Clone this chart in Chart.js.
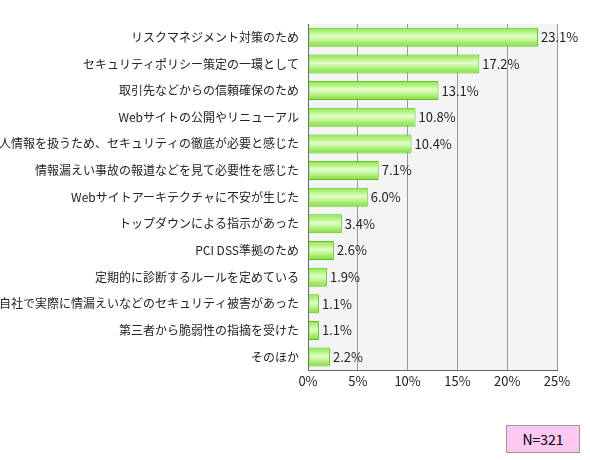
<!DOCTYPE html>
<html><head><meta charset="utf-8">
<script src="https://cdn.jsdelivr.net/npm/chart.js@4"></script>
<style>body{margin:0;background:#fff}#w{position:relative;width:590px;height:460px}
#n{position:absolute;left:506px;top:425px;width:74px;height:28px;background:#fcc8f0;border:1px solid #999;box-sizing:border-box;font:14px "Noto Sans CJK JP",sans-serif;text-align:center;line-height:26px}</style>
</head><body><div id="w"><canvas id="c" width="590" height="460"></canvas><div id="n">N=321</div></div>
<script>
const categories=["リスクマネジメント対策のため","セキュリティポリシー策定の一環として","取引先などからの信頼確保のため","Webサイトの公開やリニューアル","個人情報を扱うため、セキュリティの徹底が必要と感じた","情報漏えい事故の報道などを見て必要性を感じた","Webサイトアーキテクチャに不安が生じた","トップダウンによる指示があった","PCI DSS準拠のため","定期的に診断するルールを定めている","自社で実際に情漏えいなどのセキュリティ被害があった","第三者から脆弱性の指摘を受けた","そのほか"];
const values=[23.1,17.2,13.1,10.8,10.4,7.1,6.0,3.4,2.6,1.9,1.1,1.1,2.2];
const xTicks=[0,5,10,15,20,25];
const font='"Noto Sans CJK JP", sans-serif';
const plug={id:'p',
beforeDraw(ch){const a=ch.chartArea,c=ch.ctx;c.save();c.fillStyle='#f4f4f4';c.fillRect(a.left,a.top,a.width,a.height);c.restore();},
afterDatasetsDraw(ch){const c=ch.ctx;c.save();c.font='13px '+font;c.fillStyle='#222';c.textBaseline='middle';
ch.getDatasetMeta(0).data.forEach((b,i)=>c.fillText(values[i].toFixed(1)+'%',b.x+3,b.y));c.restore();}};
new Chart(document.getElementById('c'),{type:'bar',
data:{labels:categories,datasets:[{data:values,borderColor:'#5cc21e',borderWidth:1,borderSkipped:false,
backgroundColor(ctx){const ch=ctx.chart,s=ch.scales&&ch.scales.y;if(!s||ctx.dataIndex===undefined)return '#b8f58a';
const y=s.getPixelForValue(ctx.dataIndex),h=9;if(!Number.isFinite(y))return '#b8f58a';
const g=ch.ctx.createLinearGradient(0,y-h,0,y+h);g.addColorStop(0,'#8ee84c');g.addColorStop(0.45,'#e2ffc8');g.addColorStop(1,'#86e040');return g;},
barPercentage:0.75,categoryPercentage:0.95}]},
options:{indexAxis:'y',responsive:false,animation:false,
layout:{padding:{top:24,right:33,bottom:68,left:0}},
plugins:{legend:{display:false},tooltip:{enabled:false}},
scales:{x:{min:0,max:25,afterBuildTicks(s){s.ticks=xTicks.map(v=>({value:v}));},
ticks:{callback:v=>v+'%',font:{family:font,size:13},color:'#222'},
grid:{color:'#999',borderDash:[3,3],drawTicks:false},border:{color:'#666'}},
y:{afterFit(s){s.width=308;},ticks:{font:{family:font,size:12},color:'#222'},
grid:{display:false,drawTicks:true,tickLength:6},border:{color:'#666'}}}},
plugins:[plug]});
</script></body></html>
